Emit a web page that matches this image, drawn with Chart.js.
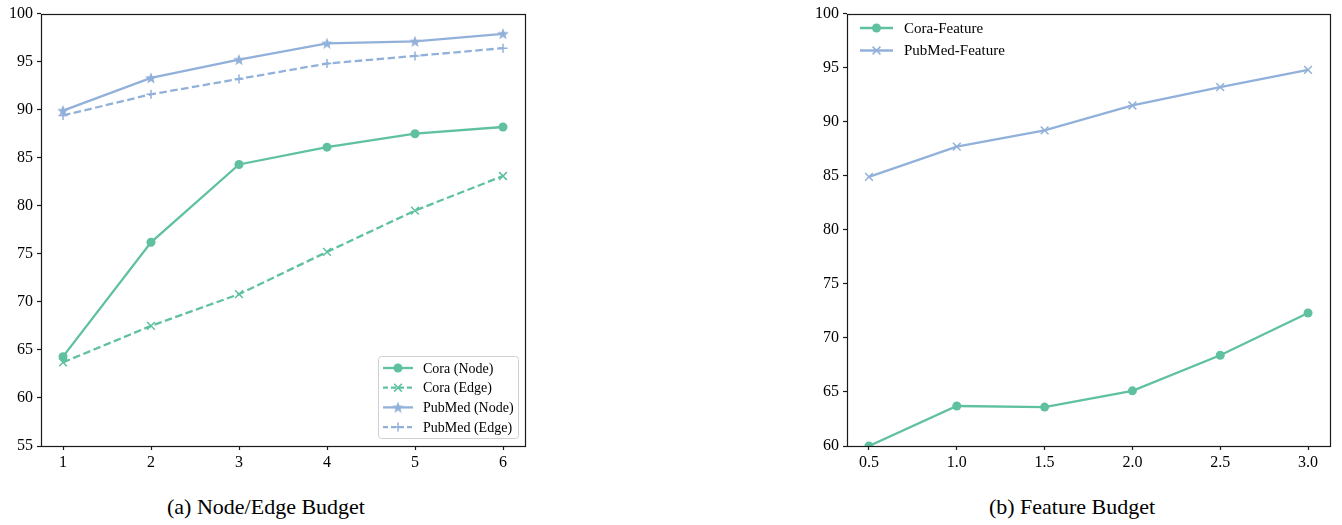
<!DOCTYPE html>
<html><head><meta charset="utf-8">
<script src="https://cdn.jsdelivr.net/npm/chart.js@4.4.0/dist/chart.umd.min.js"></script>
<style>
html,body{margin:0;padding:0;background:#fff;}
#wrap{position:relative;width:1342px;height:525px;overflow:hidden;background:#fff;}
canvas{position:absolute;top:0;}
#ca{left:0;}
#cb{left:800px;}
.cap{position:absolute;top:496px;font-family:"Liberation Serif","Times New Roman",serif;font-size:22px;line-height:22px;color:#000;white-space:nowrap;transform:translateX(-50%);}
</style></head><body>
<div id="wrap">
<canvas id="ca" width="540" height="480"></canvas>
<canvas id="cb" width="542" height="480"></canvas>
<div class="cap" style="left:266px">(a) Node/Edge Budget</div>
<div class="cap" style="left:1072px">(b) Feature Budget</div>
</div>
<script>
// ---------- data ----------
const budgetX = [1, 2, 3, 4, 5, 6];
const coraNode = [64.3, 76.2, 84.3, 86.1, 87.5, 88.2];
const coraEdge = [63.7, 67.5, 70.8, 75.2, 79.5, 83.1];
const pubmedNode = [89.9, 93.3, 95.2, 96.9, 97.1, 97.9];
const pubmedEdge = [89.4, 91.6, 93.2, 94.8, 95.6, 96.4];
const budgetYTicks = [55, 60, 65, 70, 75, 80, 85, 90, 95, 100];

const featureX = [0.5, 1.0, 1.5, 2.0, 2.5, 3.0];
const featureXLabels = ['0.5', '1.0', '1.5', '2.0', '2.5', '3.0'];
const coraFeature = [60.0, 63.7, 63.6, 65.1, 68.4, 72.3];
const pubmedFeature = [84.9, 87.7, 89.2, 91.5, 93.2, 94.8];
const featureYTicks = [60, 65, 70, 75, 80, 85, 90, 95, 100];

const labelsA = ['Cora (Node)', 'Cora (Edge)', 'PubMed (Node)', 'PubMed (Edge)'];
const labelsB = ['Cora-Feature', 'PubMed-Feature'];

// ---------- style ----------
const GREEN = '#5fc1a0';
const BLUE = '#92b1da';
const FONT = '"Liberation Serif", "Times New Roman", serif';
const DASH = [7.5, 3.5];
const LW = 2.3;

function makeStar(color) {
  const c = document.createElement('canvas');
  c.width = 14; c.height = 14;
  const g = c.getContext('2d');
  const cx = 7, cy = 7.4, R = 6.2, r = 2.6;
  g.beginPath();
  for (let i = 0; i < 10; i++) {
    const rad = (i % 2 === 0) ? R : r;
    const a = -Math.PI / 2 + i * Math.PI / 5;
    const x = cx + rad * Math.cos(a), y = cy + rad * Math.sin(a);
    if (i === 0) g.moveTo(x, y); else g.lineTo(x, y);
  }
  g.closePath();
  g.fillStyle = color;
  g.fill();
  return c;
}
const STAR = makeStar(BLUE);

function pts(xs, ys) { return xs.map((x, i) => ({x: x, y: ys[i]})); }

function drawMarker(ctx, type, x, y, color) {
  ctx.save();
  ctx.fillStyle = color; ctx.strokeStyle = color; ctx.lineWidth = 1.5; ctx.setLineDash([]);
  if (type === 'circle') {
    ctx.beginPath(); ctx.arc(x, y, 4.5, 0, Math.PI * 2); ctx.fill();
  } else if (type === 'crossRot') {
    const d = 3.9;
    ctx.beginPath(); ctx.moveTo(x - d, y - d); ctx.lineTo(x + d, y + d);
    ctx.moveTo(x - d, y + d); ctx.lineTo(x + d, y - d); ctx.stroke();
  } else if (type === 'cross') {
    const d = 4.5;
    ctx.beginPath(); ctx.moveTo(x - d, y); ctx.lineTo(x + d, y);
    ctx.moveTo(x, y - d); ctx.lineTo(x, y + d); ctx.stroke();
  } else if (type === 'star') {
    ctx.drawImage(STAR, x - 7, y - 7);
  }
  ctx.restore();
}

const framePlugin = {
  id: 'frame',
  afterDraw(chart) {
    const {ctx, chartArea: a} = chart;
    ctx.save();
    ctx.strokeStyle = '#1a1a1a'; ctx.lineWidth = 1.2;
    ctx.strokeRect(Math.round(a.left) + 0.5, Math.round(a.top) + 0.5,
      Math.round(a.right) - Math.round(a.left), Math.round(a.bottom) - Math.round(a.top));
    ctx.restore();
  }
};

const legendPlugin = {
  id: 'customLegend',
  afterDraw(chart, args, opts) {
    if (!opts || !opts.items) return;
    const ctx = chart.ctx;
    ctx.save();
    if (opts.box) {
      const b = opts.box;
      ctx.fillStyle = 'rgba(255,255,255,0.8)';
      ctx.strokeStyle = '#d0d0d0'; ctx.lineWidth = 1;
      ctx.beginPath();
      if (ctx.roundRect) ctx.roundRect(b.x + 0.5, b.y + 0.5, b.w, b.h, 3); else ctx.rect(b.x + 0.5, b.y + 0.5, b.w, b.h);
      ctx.fill(); ctx.stroke();
    }
    opts.items.forEach((it, i) => {
      const y = opts.y0 + i * opts.dy;
      ctx.strokeStyle = it.color; ctx.lineWidth = LW;
      ctx.setLineDash(it.dash || []);
      ctx.beginPath(); ctx.moveTo(opts.x0, y); ctx.lineTo(opts.x1, y); ctx.stroke();
      ctx.setLineDash([]);
      drawMarker(ctx, it.marker, (opts.x0 + opts.x1) / 2, y, it.color);
      ctx.fillStyle = '#000';
      ctx.font = opts.fontSize + 'px ' + FONT;
      ctx.textBaseline = 'middle'; ctx.textAlign = 'left';
      ctx.fillText(it.label, opts.tx, y + 1);
    });
    ctx.restore();
  }
};

function scaleX(min, max, ticks, labels, h) {
  return {
    type: 'linear', min: min, max: max,
    afterBuildTicks: ax => { ax.ticks = ticks.map(v => ({value: v})); },
    afterFit: ax => { ax.height = h; },
    ticks: {
      color: '#000', padding: 3, maxRotation: 0, autoSkip: false,
      font: {family: FONT, size: 16},
      callback: (v) => { const i = ticks.indexOf(v); return labels ? labels[i] : String(v); }
    },
    grid: {display: true, drawOnChartArea: false, drawTicks: true, tickLength: 4, tickColor: '#1a1a1a', tickWidth: 1.2},
    border: {display: false}
  };
}
function scaleY(min, max, ticks, w) {
  return {
    type: 'linear', min: min, max: max,
    afterBuildTicks: ax => { ax.ticks = ticks.map(v => ({value: v})); },
    afterFit: ax => { ax.width = w; },
    ticks: {color: '#000', padding: 4, font: {family: FONT, size: 16}},
    grid: {display: true, drawOnChartArea: false, drawTicks: true, tickLength: 4, tickColor: '#1a1a1a', tickWidth: 1.2},
    border: {display: false}
  };
}

function ds(label, xs, ys, color, style, dash, radius, clip) {
  const o = {
    label: label, data: pts(xs, ys), borderColor: color, backgroundColor: color,
    borderWidth: LW, borderDash: dash, pointStyle: style, pointRadius: radius,
    pointBorderWidth: (style === 'circle') ? 0 : 1.5, pointBorderColor: color, pointBackgroundColor: color,
    tension: 0, fill: false
  };
  if (clip !== undefined) o.clip = clip;
  return o;
}

const common = {
  responsive: false, animation: false, events: []
};

new Chart(document.getElementById('ca'), {
  type: 'line',
  data: {datasets: [
    ds(labelsA[0], budgetX, coraNode, GREEN, 'circle', [], 4.5),
    ds(labelsA[1], budgetX, coraEdge, GREEN, 'crossRot', DASH, 5.5),
    ds(labelsA[2], budgetX, pubmedNode, BLUE, STAR, [], 7),
    ds(labelsA[3], budgetX, pubmedEdge, BLUE, 'cross', DASH, 4.5)
  ]},
  options: Object.assign({}, common, {
    layout: {padding: {left: 0, right: 15, top: 9, bottom: 0}},
    scales: {
      x: scaleX(0.75, 6.25, budgetX, null, 34),
      y: scaleY(55, 100, budgetYTicks, 41)
    },
    plugins: {legend: {display: false}, tooltip: {enabled: false},
      customLegend: {
        box: {x: 378, y: 356, w: 140, h: 82},
        x0: 383, x1: 413, tx: 423, y0: 368, dy: 19.7, fontSize: 14,
        items: [
          {label: labelsA[0], color: GREEN, marker: 'circle', dash: []},
          {label: labelsA[1], color: GREEN, marker: 'crossRot', dash: [5, 3]},
          {label: labelsA[2], color: BLUE, marker: 'star', dash: []},
          {label: labelsA[3], color: BLUE, marker: 'cross', dash: [5, 3]}
        ]
      }}
  }),
  plugins: [framePlugin, legendPlugin]
});

new Chart(document.getElementById('cb'), {
  type: 'line',
  data: {datasets: [
    ds(labelsB[0], featureX, coraFeature, GREEN, 'circle', [], 4.5, 0),
    ds(labelsB[1], featureX, pubmedFeature, BLUE, 'crossRot', [], 5.5, 0)
  ]},
  options: Object.assign({}, common, {
    layout: {padding: {left: 0, right: 12, top: 9, bottom: 0}},
    scales: {
      x: scaleX(0.375, 3.125, featureX, featureXLabels, 34),
      y: scaleY(60, 100, featureYTicks, 47)
    },
    plugins: {legend: {display: false}, tooltip: {enabled: false},
      customLegend: {
        x0: 60, x1: 93, tx: 104, y0: 28, dy: 22.5, fontSize: 15,
        items: [
          {label: labelsB[0], color: GREEN, marker: 'circle', dash: []},
          {label: labelsB[1], color: BLUE, marker: 'crossRot', dash: []}
        ]
      }}
  }),
  plugins: [framePlugin, legendPlugin]
});
</script>
</body></html>
